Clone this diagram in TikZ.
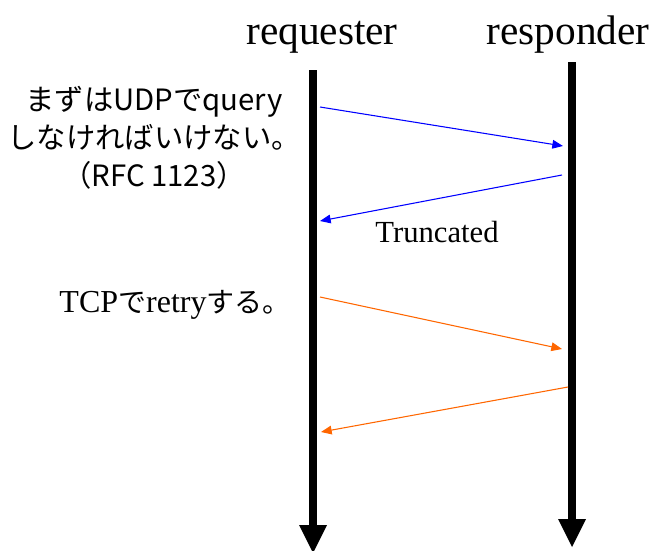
\documentclass[tikz,border=0pt]{standalone}
\usepackage{fontspec}
\setmainfont{Liberation Serif}
\newfontfamily\jp{Noto Sans CJK JP}
\usetikzlibrary{arrows.meta}
\definecolor{udpblue}{HTML}{0000FF}
\definecolor{tcporange}{HTML}{FF6600}

\begin{document}
\begin{tikzpicture}[x=0.75pt, y=-0.75pt,
  life/.style={line width=6pt, -{Triangle[length=21pt,width=21pt,line width=0pt]}},
  msg/.style={draw=#1, line width=0.8pt, -{Triangle[length=8pt,width=6.5pt]}, color=#1},
  party/.style={font=\fontsize{31}{31}\selectfont, anchor=base, inner sep=0pt},
  note/.style={align=center, inner sep=0pt},
]
\useasboundingbox (0,0) rectangle (659,550);
\node[party] (req) at (322,44) {requester};
\node[party] (resp) at (568,44) {responder};
% lifelines
\coordinate (reqtop) at (313,70);
\coordinate (reqbot) at (313,553);
\coordinate (resptop) at (572,62);
\coordinate (respbot) at (572,547);
\draw[life] (reqtop) -- (reqbot);
\draw[life] (resptop) -- (respbot);
% message end points
\coordinate (udpq) at (320,107);
\coordinate (udpqin) at (563,146);
\coordinate (udpa) at (562,175);
\coordinate (udpain) at (320,221);
\coordinate (tcpq) at (320,297);
\coordinate (tcpqin) at (562,349);
\coordinate (tcpa) at (568,387);
\coordinate (tcpain) at (321,432);
\draw[msg=udpblue] (udpq) -- (udpqin);
\draw[msg=udpblue] (udpa) -- (udpain);
\draw[msg=tcporange] (tcpq) -- (tcpqin);
\draw[msg=tcporange] (tcpa) -- (tcpain);
\node[note, anchor=base, font=\fontsize{23}{23}\selectfont] (trunc) at (437,242) {Truncated};
\node[note, font=\jp\fontsize{22}{28.5}\selectfont] (udpnote) at (154,138)
  {まずはUDPでquery\\しなければいけない。\\（RFC 1123）};
\node[note, anchor=base, font=\fontsize{24}{24}\selectfont] (tcpnote) at (175,312)
  {TCP{\jp\fontsize{21}{21}\selectfont で}retry{\jp\fontsize{21}{21}\selectfont する。}};
\end{tikzpicture}
\end{document}
